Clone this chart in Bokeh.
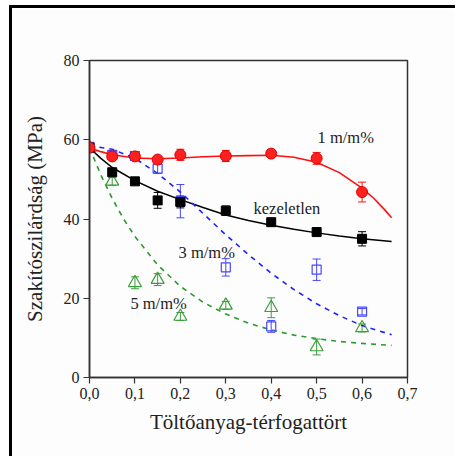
from bokeh.plotting import figure
from bokeh.models import Range1d, FixedTicker, CustomJSTickFormatter, Whisker, ColumnDataSource, TeeHead
from bokeh.core.properties import value
from bokeh.embed import file_html
from bokeh.resources import INLINE

# measured filler fractions
x_pts = [0.0, 0.05, 0.1, 0.15, 0.2, 0.3, 0.4, 0.5, 0.6]

# tensile strength (MPa) and standard deviations
red_y = [58.0, 55.8, 55.8, 55.0, 56.2, 55.9, 56.5, 55.3, 46.8]
red_err = [0.6, 0.8, 0.6, 0.8, 1.4, 1.4, 0.6, 1.5, 2.5]
black_y = [58.0, 51.8, 49.5, 44.7, 44.3, 42.1, 39.2, 36.7, 35.0]
black_err = [0.5, 0.8, 0.6, 2.0, 1.5, 1.2, 0.6, 0.6, 1.8]
blue_y = [58.2, 56.2, 55.9, 52.7, 44.5, 27.8, 12.9, 27.2, 16.6]
blue_err = [0.5, 0.8, 0.6, 1.2, 4.2, 2.2, 1.5, 2.7, 0.8]
green_y = [58.0, 49.5, 23.9, 24.7, 15.4, 18.2, 17.6, 7.7, 12.5]
green_err = [0.5, 1.0, 1.5, 1.5, 1.0, 1.0, 2.5, 2.0, 1.0]

# fitted trend curves
red_fit_x = [0.0, 0.025, 0.05, 0.1, 0.15, 0.2, 0.25, 0.3, 0.35, 0.4, 0.45, 0.5, 0.55, 0.6, 0.625, 0.65, 0.665]
red_fit_y = [58.0, 57.0, 56.2, 55.4, 55.2, 55.4, 55.7, 55.9, 56.0, 56.1, 55.6, 54.3, 51.7, 47.8, 45.3, 42.3, 40.3]
black_fit_x = [0.0, 0.025, 0.05, 0.1, 0.15, 0.2, 0.25, 0.3, 0.35, 0.4, 0.45, 0.5, 0.55, 0.6, 0.665]
black_fit_y = [58.0, 55.3, 53.0, 49.7, 47.0, 44.9, 42.9, 41.0, 39.6, 38.4, 37.4, 36.5, 35.7, 35.0, 34.3]
blue_fit_x = [0.0, 0.05, 0.1, 0.15, 0.2, 0.25, 0.3, 0.35, 0.4, 0.45, 0.5, 0.55, 0.6, 0.665]
blue_fit_y = [58.5, 57.6, 55.3, 51.5, 46.8, 41.4, 36.0, 31.0, 26.3, 22.2, 18.6, 15.6, 13.1, 10.8]
green_fit_x = [0.0, 0.025, 0.05, 0.075, 0.1, 0.15, 0.2, 0.25, 0.3, 0.35, 0.4, 0.45, 0.5, 0.55, 0.6, 0.665]
green_fit_y = [58.0, 51.1, 45.2, 40.0, 35.6, 28.4, 23.0, 19.0, 16.0, 13.7, 12.0, 10.7, 9.8, 9.1, 8.6, 8.1]

x_ticks = [0.0, 0.1, 0.2, 0.3, 0.4, 0.5, 0.6, 0.7]
y_ticks = [0, 20, 40, 60, 80]

SERIF = "Liberation Serif"
RED = "#ff1010"
BLUE = "#4646ff"
GREEN = "#3a9e3a"

p = figure(width=446, height=451, output_backend="svg", toolbar_location=None,
           x_range=Range1d(0, 0.7), y_range=Range1d(0, 80),
           min_border_left=77, min_border_right=51, min_border_top=52, min_border_bottom=82)
p.styles = {"margin-left": "9px", "margin-top": "5px",
            "border-left": "3px solid black", "border-top": "3px solid black"}
p.background_fill_color = "#fdfdfd"
p.border_fill_color = "#fdfdfd"
p.grid.visible = False
p.outline_line_color = "#333333"
p.outline_line_width = 1.5

for ax in (p.xaxis[0], p.yaxis[0]):
    ax.axis_line_color = "#333333"
    ax.axis_line_width = 1.5
    ax.major_tick_line_color = "#333333"
    ax.major_tick_line_width = 1.2
    ax.major_tick_out = 6
    ax.major_tick_in = 0
    ax.minor_tick_line_color = None
    ax.major_label_text_font = SERIF
    ax.major_label_text_font_size = "16px"
    ax.major_label_text_color = "#222222"
    ax.axis_label_text_font = SERIF
    ax.axis_label_text_font_size = "21px"
    ax.axis_label_text_font_style = "normal"
    ax.axis_label_text_color = "#222222"

p.xaxis.ticker = FixedTicker(ticks=x_ticks)
p.yaxis.ticker = FixedTicker(ticks=y_ticks)
p.xaxis.formatter = CustomJSTickFormatter(code="return tick.toFixed(1).replace('.', ',');")
p.xaxis.axis_label = "Töltőanyag-térfogattört"
p.yaxis.axis_label = "Szakítószilárdság (MPa)"
p.xaxis.major_label_standoff = 4
p.yaxis.major_label_standoff = 4
p.xaxis.axis_label_standoff = 8
p.yaxis.axis_label_standoff = 14

# trend curves
p.line(red_fit_x, red_fit_y, line_color=RED, line_width=1.6)
p.line(black_fit_x, black_fit_y, line_color="black", line_width=1.5)
p.line(blue_fit_x, blue_fit_y, line_color="#2020ff", line_width=1.6, line_dash="5 5")
p.line(green_fit_x, green_fit_y, line_color="#2a9a2a", line_width=1.6, line_dash="5 5")


def add_errors(ys, errs, color):
    src = ColumnDataSource(dict(x=x_pts,
                                lo=[y - e for y, e in zip(ys, errs)],
                                hi=[y + e for y, e in zip(ys, errs)]))
    w = Whisker(source=src, base="x", lower="lo", upper="hi", line_color=color, line_width=1)
    w.upper_head = TeeHead(size=8, line_color=color, line_width=1)
    w.lower_head = TeeHead(size=8, line_color=color, line_width=1)
    p.add_layout(w)


add_errors(green_y, green_err, GREEN)
add_errors(blue_y, blue_err, BLUE)
add_errors(black_y, black_err, "black")
add_errors(red_y, red_err, RED)

p.scatter(x_pts, green_y, marker="triangle", size=13, fill_color=None,
          line_color=GREEN, line_width=1.2)
p.scatter(x_pts, blue_y, marker="square", size=9, fill_color=None,
          line_color=BLUE, line_width=1.2)
p.scatter(x_pts, black_y, marker="square", size=9, fill_color="black", line_color="black")
p.scatter(x_pts, red_y, marker="circle", size=11, fill_color="#ff2020",
          line_color="#e00000", line_width=1)

# series labels
labels = dict(x=[0.502, 0.361, 0.196, 0.09], y=[60.6, 42.6, 31.5, 18.7],
              t=["1 m/m%", "kezeletlen", "3 m/m%", "5 m/m%"])
p.text(x="x", y="y", text="t", source=ColumnDataSource(labels),
       text_font=value(SERIF), text_font_size="16.5px", text_color="#222222",
       text_baseline="middle", text_align="left")

open("out.html", "w").write(file_html(p, INLINE))
